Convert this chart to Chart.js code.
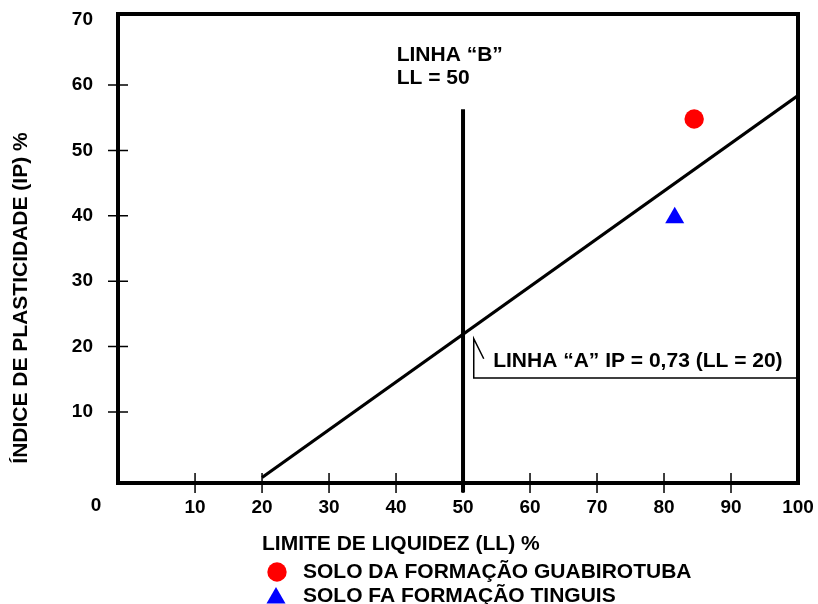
<!DOCTYPE html>
<html>
<head>
<meta charset="utf-8">
<script src="https://cdn.jsdelivr.net/npm/chart.js@4.4.1/dist/chart.umd.min.js"></script>
<style>
  html, body { margin: 0; padding: 0; background: #fff; }
  #wrap { width: 818px; height: 604px; position: relative; }
</style>
</head>
<body>
<div id="wrap"><canvas id="plastChart"></canvas></div>
<script>
// ── DATA ─────────────────────────────────────────
const xTicks = [10, 20, 30, 40, 50, 60, 70, 80, 90, 100];
const yTicks = [10, 20, 30, 40, 50, 60, 70];

// linha "A": IP = 0,73 (LL - 20)
const lineA_LL = [20, 100];
const lineA_IP = [0, 58.4];

// linha "B": LL = 50
const lineB_LL = [50, 50];
const lineB_IP = [-2.3, 56.3];

const guabirotubaLL = [84.5];
const guabirotubaIP = [54.8];
const tinguisLL = [81.6];
const tinguisIP = [39.7];

const soilNames = ['SOLO DA FORMAÇÃO GUABIROTUBA', 'SOLO FA FORMAÇÃO TINGUIS'];

const FONT = "'Liberation Sans', Arial, sans-serif";

function pts(xs, ys) {
  return xs.map((x, i) => ({ x, y: ys[i] }));
}

// ── FRAME, TICK MARKS, NOTES, LEGEND ─────────────
const notesPlugin = {
  id: 'notes',
  afterDatasetsDraw(chart) {
    const ctx = chart.ctx;
    const a = chart.chartArea;
    const sx = chart.scales.x;
    const sy = chart.scales.y;

    ctx.save();
    ctx.strokeStyle = '#000';
    ctx.fillStyle = '#000';

    // tick marks crossing the axes
    ctx.lineWidth = 1.5;
    ctx.beginPath();
    xTicks.filter(v => v < 100).forEach(v => {
      const px = sx.getPixelForValue(v);
      ctx.moveTo(px, a.bottom - 10);
      ctx.lineTo(px, a.bottom + 10);
    });
    yTicks.filter(v => v < 70).forEach(v => {
      const py = sy.getPixelForValue(v);
      ctx.moveTo(a.left - 10, py);
      ctx.lineTo(a.left + 10, py);
    });
    ctx.stroke();

    // frame
    ctx.lineWidth = 4;
    ctx.strokeRect(a.left, a.top, a.right - a.left, a.bottom - a.top);

    // origin label
    ctx.font = 'bold 19px ' + FONT;
    ctx.textAlign = 'center';
    ctx.textBaseline = 'middle';
    ctx.fillText('0', a.left - 22, 506);

    // linha B note
    ctx.font = 'bold 21px ' + FONT;
    ctx.textAlign = 'left';
    const bx = sx.getPixelForValue(40.1);
    ctx.fillText('LINHA “B”', bx, sy.getPixelForValue(64.6));
    ctx.fillText('LL = 50', bx, sy.getPixelForValue(61.1));

    // linha A callout
    const tipX = sx.getPixelForValue(51.6);
    const tipY = sy.getPixelForValue(21.2);
    const baseY = sy.getPixelForValue(15.2);
    ctx.lineWidth = 1.5;
    ctx.beginPath();
    ctx.moveTo(a.right, baseY);
    ctx.lineTo(tipX, baseY);
    ctx.lineTo(tipX, tipY);
    ctx.lineTo(tipX + 10, tipY + 20);
    ctx.stroke();
    ctx.fillText('LINHA “A” IP = 0,73 (LL = 20)', sx.getPixelForValue(54.5), sy.getPixelForValue(17.8));

    // axis titles
    ctx.fillText('LIMITE DE LIQUIDEZ (LL) %', 262, 544);
    ctx.save();
    ctx.translate(21, 298);
    ctx.rotate(-Math.PI / 2);
    ctx.textAlign = 'center';
    ctx.fillText('ÍNDICE DE PLASTICIDADE (IP) %', 0, 0);
    ctx.restore();

    // legend
    const rows = [572, 596];
    chart.data.datasets.filter(d => d.inLegend).forEach((d, i) => {
      const y = rows[i];
      const cx = 276;
      ctx.fillStyle = d.backgroundColor;
      ctx.beginPath();
      if (d.pointStyle === 'triangle') {
        const r = d.pointRadius;
        for (let k = 0; k < 3; k++) {
          const ang = k * 2 * Math.PI / 3;
          ctx.lineTo(cx + Math.sin(ang) * r, y + 2 - Math.cos(ang) * r);
        }
        ctx.closePath();
      } else {
        ctx.arc(cx + 1, y, d.pointRadius, 0, Math.PI * 2);
      }
      ctx.fill();
      ctx.fillStyle = '#000';
      ctx.fillText(d.label, 303, y);
    });

    ctx.restore();
  },
};

// ── CHART ────────────────────────────────────────
const ctx = document.getElementById('plastChart').getContext('2d');

new Chart(ctx, {
  type: 'scatter',
  data: {
    datasets: [
      {
        type: 'line',
        label: 'Linha A',
        data: pts(lineA_LL, lineA_IP),
        borderColor: '#000',
        borderWidth: 3.2,
        pointRadius: 0,
        fill: false,
      },
      {
        type: 'line',
        label: 'Linha B',
        data: pts(lineB_LL, lineB_IP),
        borderColor: '#000',
        borderWidth: 4,
        pointRadius: 0,
        fill: false,
        clip: false,
      },
      {
        label: soilNames[0],
        inLegend: true,
        data: pts(guabirotubaLL, guabirotubaIP),
        pointStyle: 'circle',
        pointRadius: 9.7,
        borderWidth: 0,
        backgroundColor: '#ff0000',
        borderColor: '#ff0000',
      },
      {
        label: soilNames[1],
        inLegend: true,
        data: pts(tinguisLL, tinguisIP),
        pointStyle: 'triangle',
        pointRadius: 11,
        borderWidth: 0,
        backgroundColor: '#0000ff',
        borderColor: '#0000ff',
      },
    ],
  },
  options: {
    responsive: true,
    maintainAspectRatio: false,
    animation: false,
    layout: { padding: { top: 14, right: 20, bottom: 81, left: 0 } },
    plugins: {
      legend: { display: false },
      tooltip: { enabled: false },
    },
    scales: {
      x: {
        type: 'linear',
        min: -1.5,
        max: 100,
        afterBuildTicks: s => { s.ticks = xTicks.map(v => ({ value: v })); },
        afterFit: s => { s.height = 40; s.paddingLeft = 0; s.paddingRight = 0; },
        grid: { display: false, drawTicks: false },
        border: { display: false },
        ticks: {
          color: '#000',
          padding: 13,
          maxRotation: 0,
          autoSkip: false,
          font: { family: FONT, size: 19, weight: 'bold' },
        },
      },
      y: {
        type: 'linear',
        min: -0.85,
        max: 70.85,
        afterBuildTicks: s => { s.ticks = yTicks.map(v => ({ value: v })); },
        afterFit: s => { s.width = 118; s.paddingTop = 0; s.paddingBottom = 0; },
        grid: { display: false, drawTicks: false },
        border: { display: false },
        ticks: {
          color: '#000',
          padding: 25,
          autoSkip: false,
          font: { family: FONT, size: 19, weight: 'bold' },
        },
      },
    },
  },
  plugins: [notesPlugin],
});
</script>
</body>
</html>
